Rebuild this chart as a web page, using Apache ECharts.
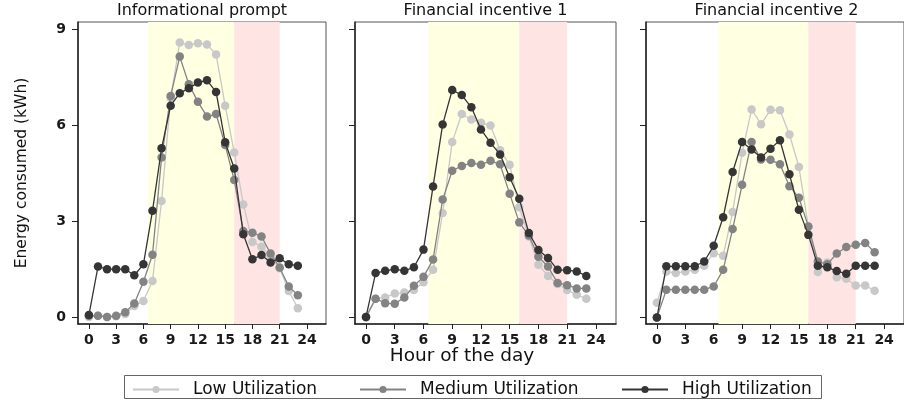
<!DOCTYPE html>
<html>
<head>
<meta charset="utf-8">
<script src="https://cdn.jsdelivr.net/npm/echarts@6/dist/echarts.min.js"></script>
<style>html,body{margin:0;padding:0;background:#fff;}#c{width:904px;height:404px;}</style>
</head>
<body>
<div id="c"></div>
<script>
// ---- data ----
const hours = [0,1,2,3,4,5,6,7,8,9,10,11,12,13,14,15,16,17,18,19,20,21,22,23];
const panelTitles = ['Informational prompt', 'Financial incentive 1', 'Financial incentive 2'];
const seriesNames = ['Low Utilization', 'Medium Utilization', 'High Utilization'];
const xTicks = [0,3,6,9,12,15,18,21,24];
const yTicks = [0,3,6,9];
const peakBand = [6.5, 16];
const eveningBand = [16, 21];

const infoLow  = [0.02,0.06,0.02,0.04,0.11,0.36,0.52,1.14,3.64,6.85,8.58,8.50,8.56,8.52,8.21,6.61,5.15,3.53,2.36,2.21,1.90,1.54,0.83,0.29];
const infoMed  = [0.06,0.06,0.02,0.06,0.17,0.44,1.12,1.96,4.99,6.91,8.14,7.28,6.73,6.27,6.35,5.38,4.29,2.70,2.65,2.53,2.00,1.56,0.97,0.70];
const infoHigh = [0.08,1.59,1.51,1.51,1.51,1.32,1.66,3.33,5.28,6.61,7.00,7.15,7.33,7.40,7.04,5.47,4.65,2.60,1.82,1.95,1.72,1.85,1.66,1.62];

const fin1Low  = [0.00,0.59,0.63,0.75,0.78,0.86,1.10,1.49,3.26,5.48,6.35,6.18,6.08,5.99,5.22,4.77,3.44,2.53,1.65,1.30,1.05,0.86,0.71,0.59];
const fin1Med  = [0.02,0.59,0.45,0.43,0.63,0.99,1.27,1.81,3.68,4.58,4.73,4.82,4.77,4.89,4.78,3.86,2.97,2.56,1.90,1.59,1.08,1.01,0.91,0.91];
const fin1High = [0.02,1.39,1.46,1.51,1.46,1.57,2.12,4.09,6.02,7.10,6.94,6.56,5.87,5.45,5.09,4.38,3.71,2.64,2.11,1.86,1.49,1.48,1.44,1.30];

const fin2Low  = [0.46,1.44,1.39,1.44,1.49,1.62,2.01,1.93,3.29,5.14,6.49,6.03,6.48,6.47,5.71,4.70,2.84,1.42,1.72,1.26,1.21,1.00,1.00,0.84];
const fin2Med  = [0.00,0.87,0.87,0.87,0.87,0.87,0.97,1.49,2.76,4.14,5.48,4.93,4.92,4.78,4.10,3.74,2.84,1.75,1.66,2.00,2.20,2.27,2.33,2.04];
const fin2High = [0.00,1.60,1.60,1.60,1.60,1.75,2.24,3.13,4.54,5.48,5.24,4.99,5.27,5.53,4.47,3.36,2.58,1.62,1.57,1.45,1.37,1.62,1.62,1.62];

const panelData = [[infoLow, infoMed, infoHigh],[fin1Low, fin1Med, fin1High],[fin2Low, fin2Med, fin2High]];

// ---- style ----
const FONT = 'DejaVu Sans';
const colors = ['#c8c8c8', '#838383', '#353535'];
const grids = [
  {left: 78, top: 22, width: 248, height: 302, xMin: -1.2, xMax: 26.1},
  {left: 355, top: 22, width: 261, height: 302, xMin: -1.15, xMax: 26.1},
  {left: 646, top: 22, width: 261, height: 302, xMin: -1.15, xMax: 26.1}
];

const option = {
  animation: false,
  backgroundColor: '#ffffff',
  title: grids.map((g, i) => ({
    text: panelTitles[i],
    left: g.left + g.width / 2,
    top: 3,
    padding: 0,
    textAlign: 'center',
    textStyle: {fontFamily: FONT, fontSize: 16, fontWeight: 'normal', color: '#111'}
  })).concat([{
    text: 'Hour of the day',
    left: 462, top: 347, padding: 0, textAlign: 'center',
    textStyle: {fontFamily: FONT, fontSize: 18.5, fontWeight: 'normal', color: '#111'}
  }]),
  grid: grids.map(g => ({left: g.left, top: g.top, width: g.width, height: g.height,
    show: true, borderColor: '#555', borderWidth: 1, backgroundColor: 'transparent'})),
  xAxis: grids.map((g, i) => ({
    type: 'value', gridIndex: i, min: g.xMin, max: g.xMax,
    axisLine: {show: true, onZero: false, lineStyle: {color: '#222', width: 1.5}},
    axisTick: {show: true, length: 5, customValues: xTicks, lineStyle: {color: '#222'}},
    axisLabel: {show: true, customValues: xTicks, margin: 9, fontFamily: FONT, fontSize: 14, fontWeight: 'bold', color: '#1a1a1a'},
    splitLine: {show: false}
  })),
  yAxis: grids.map((g, i) => ({
    type: 'value', gridIndex: i, min: -0.2, max: 9.22,
    name: i === 0 ? 'Energy consumed (kWh)' : '',
    nameLocation: 'middle', nameGap: 48,
    nameTextStyle: {fontFamily: FONT, fontSize: 15.5, color: '#111'},
    axisLine: {show: true, onZero: false, lineStyle: {color: '#222', width: 1.5}},
    axisTick: {show: true, length: 6, customValues: yTicks, lineStyle: {color: '#222'}},
    axisLabel: {show: i === 0, customValues: yTicks, margin: 12, fontFamily: FONT, fontSize: 14, fontWeight: 'bold', color: '#1a1a1a'},
    splitLine: {show: false}
  })),
  legend: seriesNames.map((n, i) => ({
    data: [n],
    left: [132, 359, 621][i],
    top: 381,
    padding: 0,
    itemWidth: 46, itemHeight: 9,
    textStyle: {fontFamily: FONT, fontSize: 17, color: '#111', padding: [0, 0, 0, 9]},
    selectedMode: false
  })),
  graphic: [{
    type: 'rect', shape: {x: 124.5, y: 375.5, width: 697, height: 23},
    style: {fill: 'none', stroke: '#666', lineWidth: 1}, silent: true
  }],
  series: []
};

grids.forEach((g, p) => {
  option.series.push({
    type: 'line', xAxisIndex: p, yAxisIndex: p, data: [], z: 1, silent: true,
    markArea: {silent: true, data: [
      [{xAxis: peakBand[0], itemStyle: {color: '#ffffe1'}}, {xAxis: peakBand[1]}],
      [{xAxis: eveningBand[0], itemStyle: {color: '#ffe4e4'}}, {xAxis: eveningBand[1]}]
    ]}
  });
  panelData[p].forEach((arr, s) => {
    option.series.push({
      name: seriesNames[s], type: 'line', xAxisIndex: p, yAxisIndex: p, z: 2 + s,
      data: hours.map((h, k) => [h, arr[k]]),
      symbol: 'circle', symbolSize: 8.5, showSymbol: true,
      lineStyle: {color: colors[s], width: 1.3},
      itemStyle: {color: colors[s]},
      color: colors[s]
    });
  });
});

const chart = echarts.init(document.getElementById('c'));
chart.setOption(option);
</script>
</body>
</html>
